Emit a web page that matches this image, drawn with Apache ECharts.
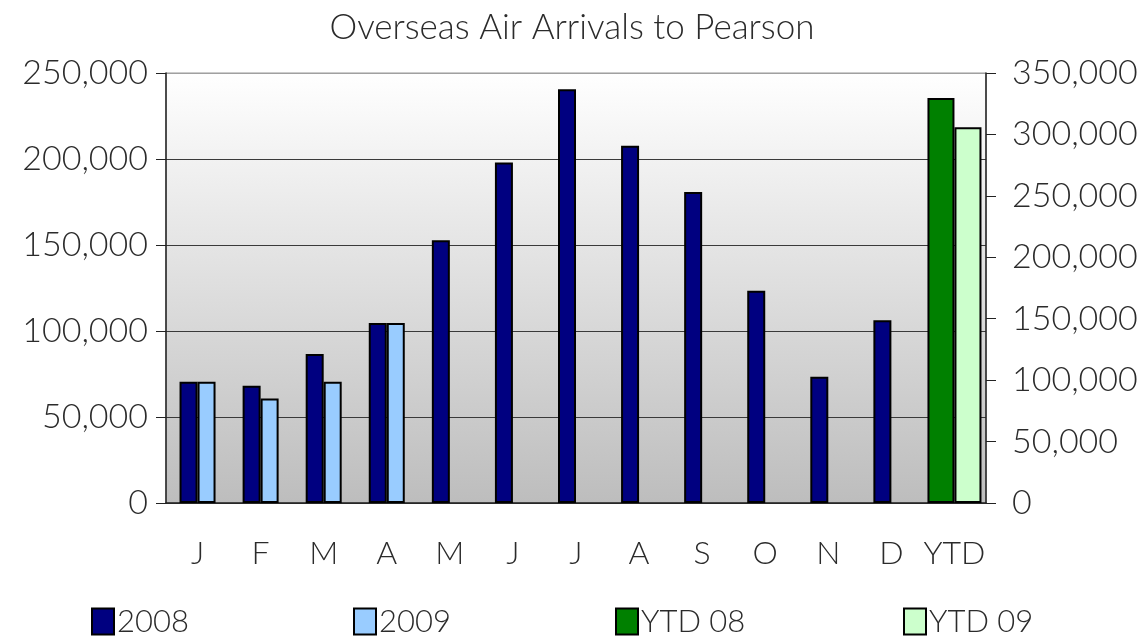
<!DOCTYPE html>
<html>
<head>
<meta charset="utf-8">
<script src="https://cdn.jsdelivr.net/npm/echarts@6/dist/echarts.min.js"></script>
<style>
  html, body { margin: 0; padding: 0; background: #fff; }
  #chart { width: 1144px; height: 637px; }
</style>
</head>
<body>
<div id="chart"></div>
<script>
// data
var months = ['J', 'F', 'M', 'A', 'M', 'J', 'J', 'A', 'S', 'O', 'N', 'D', 'YTD'];
var arr2008 = [70500, 68200, 86600, 104700, 152700, 197900, 240600, 207700, 180800, 123400, 73400, 106200, '-'];
var arr2009 = [70500, 60800, 70500, 104700, '-', '-', '-', '-', '-', '-', '-', '-', '-'];
var ytd08 = ['-', '-', '-', '-', '-', '-', '-', '-', '-', '-', '-', '-', 329700];
var ytd09 = ['-', '-', '-', '-', '-', '-', '-', '-', '-', '-', '-', '-', 305800];

var font = 'Lato';
var txt = '#2b2b2b';

function fmt(v) {
  return v.toString().replace(/\B(?=(\d{3})+(?!\d))/g, ',');
}

var myChart = echarts.init(document.getElementById('chart'));

var legendBase = {
  icon: 'rect',
  itemWidth: 22,
  itemHeight: 26,
  top: 601,
  textStyle: { fontFamily: font, fontSize: 31, color: txt, fontWeight: 300, padding: [0, 0, 0, -2] }
};

var option = {
  backgroundColor: '#fff',
  animation: false,
  title: {
    text: 'Overseas Air Arrivals to Pearson',
    left: 'center',
    top: 5,
    textStyle: { fontFamily: font, fontSize: 35, fontWeight: 300, color: txt }
  },
  legend: [
    Object.assign({ left: 86, data: ['2008'] }, legendBase),
    Object.assign({ left: 348, data: ['2009'] }, legendBase),
    Object.assign({ left: 610, data: ['YTD 08'] }, legendBase),
    Object.assign({ left: 898, data: ['YTD 09'] }, legendBase)
  ],
  grid: {
    left: 166, right: 158, top: 73, bottom: 134,
    show: true,
    borderColor: '#999',
    borderWidth: 1,
    backgroundColor: new echarts.graphic.LinearGradient(0, 0, 0, 1, [
      { offset: 0, color: '#ffffff' },
      { offset: 1, color: '#bdbdbd' }
    ])
  },
  xAxis: [
    {
      type: 'category',
      data: months,
      axisLine: { lineStyle: { color: '#222', width: 1.5 } },
      axisTick: { length: 11, lineStyle: { color: '#222' } },
      axisLabel: { interval: 0, fontFamily: font, fontSize: 32, fontWeight: 300, color: txt, margin: 35 }
    },
    {
      type: 'category',
      data: months,
      show: false
    }
  ],
  yAxis: [
    {
      type: 'value',
      min: 0, max: 250000, interval: 50000,
      axisLine: { show: true, lineStyle: { color: '#222', width: 1.5 } },
      axisTick: { show: true, length: 10, lineStyle: { color: '#222' } },
      axisLabel: { fontFamily: font, fontSize: 34, fontWeight: 300, color: txt, margin: 18, formatter: fmt },
      splitLine: { lineStyle: { color: ['#3a3a3a', '#3a3a3a', '#3a3a3a', '#3a3a3a', '#3a3a3a', '#a0a0a0'], width: 1 } }
    },
    {
      type: 'value',
      min: 0, max: 350000, interval: 50000,
      axisLine: { show: true, lineStyle: { color: '#222', width: 1.5 } },
      axisTick: { show: true, length: 10, lineStyle: { color: '#222' } },
      axisLabel: { fontFamily: font, fontSize: 34, fontWeight: 300, color: txt, margin: 26, formatter: fmt },
      splitLine: { show: false }
    }
  ],
  series: [
    {
      name: '2008', type: 'bar', data: arr2008,
      barWidth: 18, barGap: '0%',
      itemStyle: { color: '#000080', borderColor: '#000', borderWidth: 2 }
    },
    {
      name: '2009', type: 'bar', data: arr2009,
      barWidth: 18, barGap: '0%',
      itemStyle: { color: '#99ccff', borderColor: '#000', borderWidth: 2 }
    },
    {
      name: 'YTD 08', type: 'bar', data: ytd08,
      xAxisIndex: 1, yAxisIndex: 1,
      barWidth: 27, barGap: '0%',
      itemStyle: { color: '#008000', borderColor: '#000', borderWidth: 2 }
    },
    {
      name: 'YTD 09', type: 'bar', data: ytd09,
      xAxisIndex: 1, yAxisIndex: 1,
      barWidth: 27, barGap: '0%',
      itemStyle: { color: '#ccffcc', borderColor: '#000', borderWidth: 2 }
    }
  ]
};

myChart.setOption(option);
</script>
</body>
</html>
